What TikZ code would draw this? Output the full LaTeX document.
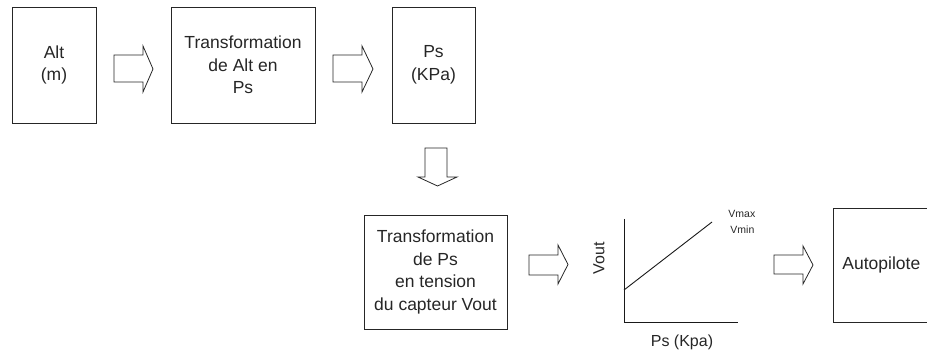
\documentclass[tikz,border=0pt]{standalone}
\usepackage{fontspec}
\setmainfont{Liberation Sans}
\begin{document}
\begin{tikzpicture}[x=1pt,y=-1pt,
  line width=0.9pt,
  every node/.style={text=black!85},
  bigtxt/.style={font=\fontsize{17.5}{22.5}\selectfont, align=center},
  blockbox/.style={draw=black!85, bigtxt, inner sep=0pt},
  axislbl/.style={font=\fontsize{16}{19}\selectfont, inner sep=0pt},
  smalltxt/.style={font=\fontsize{10.5}{12}\selectfont, inner sep=0pt, anchor=west},
  hollow/.style={draw=black!85, line width=0.8pt, line join=miter},
  curve/.style={draw=black!90, line width=0.9pt}
]
\useasboundingbox (0,0) rectangle (927,352);

% top row of blocks
\node[blockbox, minimum width=84, minimum height=116] (alt) at (54,65) {Alt\\(m)};
\node[blockbox, minimum width=144, minimum height=116] (tr1) at (243,65) {Transformation\\de Alt en\\Ps};
\node[blockbox, minimum width=83, minimum height=116] (ps) at (433.5,65) {Ps\\(KPa)};

% bottom row
\node[blockbox, minimum width=143, minimum height=114] (tr2) at (435.5,272)
  {Transformation\\de Ps\\en tension\\du capteur Vout};
\node[draw=black!85, minimum width=127, minimum height=114, inner sep=0pt] (auto) at (896.5,265) {};
\node[bigtxt, anchor=west, inner sep=0pt] (autotxt) at (842,265) {Autopilote};

% hollow block arrows (start point = tail, top-left of shaft)
\coordinate (h1) at (114,55);
\coordinate (h2) at (333,55);
\coordinate (h3) at (529,255);
\coordinate (h4) at (774,255);
\coordinate (v1) at (425,148);

\draw[hollow] (h1) -- ++(29,0) -- ++(0,-9) -- ++(10,23) -- ++(-10,23) -- ++(0,-10) -- ++(-29,0) -- cycle;
\draw[hollow] (h2) -- ++(29,0) -- ++(0,-9) -- ++(11,23) -- ++(-11,23) -- ++(0,-10) -- ++(-29,0) -- cycle;
\draw[hollow] (h3) -- ++(29,0) -- ++(0,-10) -- ++(10,19.5) -- ++(-10,19.5) -- ++(0,-9) -- ++(-29,0) -- cycle;
\draw[hollow] (h4) -- ++(29,0) -- ++(0,-9) -- ++(10,19) -- ++(-10,19) -- ++(0,-10) -- ++(-29,0) -- cycle;
\draw[hollow] (v1) -- ++(0,29) -- ++(-7,0) -- ++(19.5,9) -- ++(19.5,-9) -- ++(-10,0) -- ++(0,-29) -- cycle;

% sensor characteristic
\coordinate (ytop) at (624,219);
\coordinate (orig) at (624,322);
\coordinate (xend) at (738,322);
\coordinate (lstart) at (624,290);
\coordinate (lend) at (712,222);
\draw[curve] (ytop) -- (orig) -- (xend);
\draw[curve] (lstart) -- (lend);
\node[axislbl, rotate=90] (vout) at (599,258) {Vout};
\node[axislbl] (psk) at (682,342) {Ps (Kpa)};
\node[smalltxt] (vmax) at (728,214) {Vmax};
\node[smalltxt] (vmin) at (730,230) {Vmin};
\end{tikzpicture}
\end{document}
